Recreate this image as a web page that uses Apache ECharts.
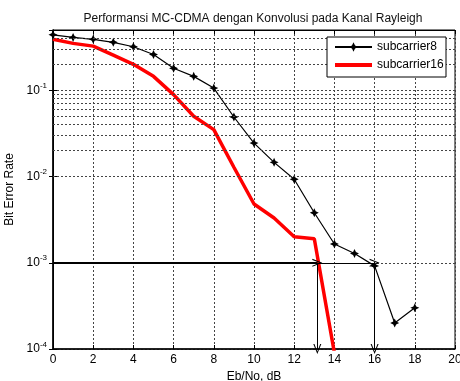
<!DOCTYPE html>
<html>
<head>
<meta charset="utf-8">
<script src="https://cdn.jsdelivr.net/npm/echarts@6/dist/echarts.min.js"></script>
<style>
html, body { margin: 0; padding: 0; background: #fff; }
#main { width: 460px; height: 381px; }
</style>
</head>
<body>
<div id="main"></div>
<script>
// Eb/No (dB)
var snr8 = [0, 1, 2, 3, 4, 5, 6, 7, 8, 9, 10, 11, 12, 13, 14, 15, 16, 17, 18];
var ber8 = [0.44, 0.41, 0.39, 0.36, 0.32, 0.26, 0.18, 0.145, 0.106, 0.049, 0.0244, 0.0146,
            0.0093, 0.0038, 0.00165, 0.00128, 0.00092, 0.0002, 0.0003];
var snr16 = [0, 1, 2, 3, 4, 5, 6, 7, 8, 9, 10, 11, 12, 13, 14];
var ber16 = [0.39, 0.35, 0.325, 0.255, 0.2, 0.145, 0.089, 0.05, 0.035, 0.0128, 0.0048, 0.0033,
             0.002, 0.0019, 0.00009];
// garis bantu (panah) pada BER 1e-3
var targetBer = 1e-3;
var arrowX = [13.15, 16];
var berMin = 1e-4, berMax = 0.5;

function pairs(xs, ys) {
    var out = [];
    for (var i = 0; i < xs.length; i++) out.push([xs[i], ys[i]]);
    return out;
}

// garis grid minor (2..9 x 10^k)
var minorLines = [];
for (var k = -4; k <= -1; k++) {
    for (var m = 2; m <= 9; m++) {
        var v = m * Math.pow(10, k);
        if (v < berMax) minorLines.push({ yAxis: v });
    }
}

var vArrow = 'path://M0,10 L5,0 L10,10 L8.6,10 L5,2.6 L1.4,10 Z';
var starMark = 'path://M5,0 L6.6,3.4 L10,5 L6.6,6.6 L5,10 L3.4,6.6 L0,5 L3.4,3.4 Z';
var redBar = 'path://M0,0 L37,0 L37,4 L0,4 Z';
var font = 'Liberation Sans';

var myChart = echarts.init(document.getElementById('main'));
var gridLine = { show: true, lineStyle: { color: '#444', width: 1, type: [2, 2] } };
var option = {
    backgroundColor: '#fff',
    animation: false,
    title: {
        text: 'Performansi MC-CDMA dengan Konvolusi pada Kanal Rayleigh',
        left: 248,
        top: 8,
        textAlign: 'center',
        textStyle: { fontFamily: font, fontSize: 12, fontWeight: 'normal', color: '#111' }
    },
    // kotak legenda
    graphic: [{
        type: 'rect',
        z: 10,
        shape: { x: 327, y: 37, width: 119, height: 40 },
        style: { fill: '#fff', stroke: '#000', lineWidth: 1 }
    }],
    legend: {
        data: [{ name: 'subcarrier8' }, { name: 'subcarrier16', icon: redBar }],
        orient: 'vertical',
        left: 327,
        top: 37,
        z: 20,
        padding: [4, 4, 6, 7],
        itemWidth: 37,
        itemHeight: 12,
        itemGap: 6,
        textStyle: { fontFamily: font, fontSize: 12, color: '#000' }
    },
    grid: {
        left: 53, right: 5, top: 30, bottom: 32,
        outerBoundsMode: 'none',
        show: true, borderColor: '#000', borderWidth: 1
    },
    xAxis: [{
        type: 'value',
        min: 0, max: 20, interval: 2,
        name: 'Eb/No, dB',
        nameLocation: 'middle',
        nameGap: 20,
        nameTextStyle: { fontFamily: font, fontSize: 12, color: '#000' },
        axisLine: { show: true, onZero: false, lineStyle: { color: '#000', width: 1.5 } },
        axisTick: { show: true, inside: true, length: 4, lineStyle: { color: '#000' } },
        axisLabel: { margin: 5, fontFamily: font, fontSize: 12, color: '#000' },
        splitLine: gridLine
    }, {
        type: 'value', position: 'top',
        min: 0, max: 20, interval: 2,
        axisLine: { show: true, lineStyle: { color: '#000' } },
        axisTick: { show: true, inside: true, length: 4, lineStyle: { color: '#000' } },
        axisLabel: { show: false },
        splitLine: { show: false }
    }],
    yAxis: [{
        type: 'log',
        logBase: 10,
        min: berMin, max: berMax,
        name: 'Bit Error Rate',
        nameLocation: 'middle',
        nameGap: 36,
        nameTextStyle: { fontFamily: font, fontSize: 12, color: '#000' },
        axisLine: { show: true, onZero: false, lineStyle: { color: '#000', width: 1.5 } },
        axisTick: { show: true, inside: true, length: 4, lineStyle: { color: '#000' } },
        axisLabel: {
            showMaxLabel: false,
            margin: 6,
            formatter: function (val) {
                return '{b|10}{s|' + Math.round(Math.log10(val)) + '}';
            },
            rich: {
                b: { fontFamily: font, fontSize: 12, color: '#000' },
                s: { fontFamily: font, fontSize: 8, color: '#000', padding: [0, 0, 9, 0] }
            }
        },
        splitLine: gridLine
    }, {
        type: 'log',
        logBase: 10,
        min: berMin, max: berMax,
        position: 'right',
        axisLine: { show: true, lineStyle: { color: '#000' } },
        axisTick: { show: true, inside: true, length: 4, lineStyle: { color: '#000' } },
        axisLabel: { show: false },
        splitLine: { show: false }
    }],
    series: [{
        name: 'grid',
        type: 'line',
        data: [],
        silent: true,
        markLine: {
            silent: true,
            symbol: ['none', 'none'],
            label: { show: false },
            lineStyle: { color: '#444', width: 1, type: [2, 2] },
            data: minorLines
        }
    }, {
        name: 'subcarrier8',
        type: 'line',
        data: pairs(snr8, ber8),
        color: '#000',
        symbol: starMark,
        symbolSize: 9,
        lineStyle: { color: '#000', width: 1.2 },
        itemStyle: { color: '#000' },
        z: 4,
        markLine: {
            silent: true,
            symbol: ['none', vArrow],
            symbolSize: [8, 10],
            label: { show: false },
            lineStyle: { color: '#000', type: 'solid', width: 1 },
            data: [
                [{ coord: [0, targetBer], lineStyle: { width: 2 } }, { coord: [arrowX[0], targetBer] }],
                [{ coord: [arrowX[0], targetBer] }, { coord: [arrowX[1], targetBer] }],
                [{ coord: [arrowX[0], targetBer] }, { coord: [arrowX[0], berMin] }],
                [{ coord: [arrowX[1], targetBer] }, { coord: [arrowX[1], berMin] }]
            ]
        }
    }, {
        name: 'subcarrier16',
        type: 'line',
        data: pairs(snr16, ber16),
        color: '#ff0000',
        symbol: 'none',
        lineStyle: { color: '#ff0000', width: 3.5 },
        z: 3
    }]
};
// 为echarts对象加载数据
myChart.setOption(option);
</script>
</body>
</html>
